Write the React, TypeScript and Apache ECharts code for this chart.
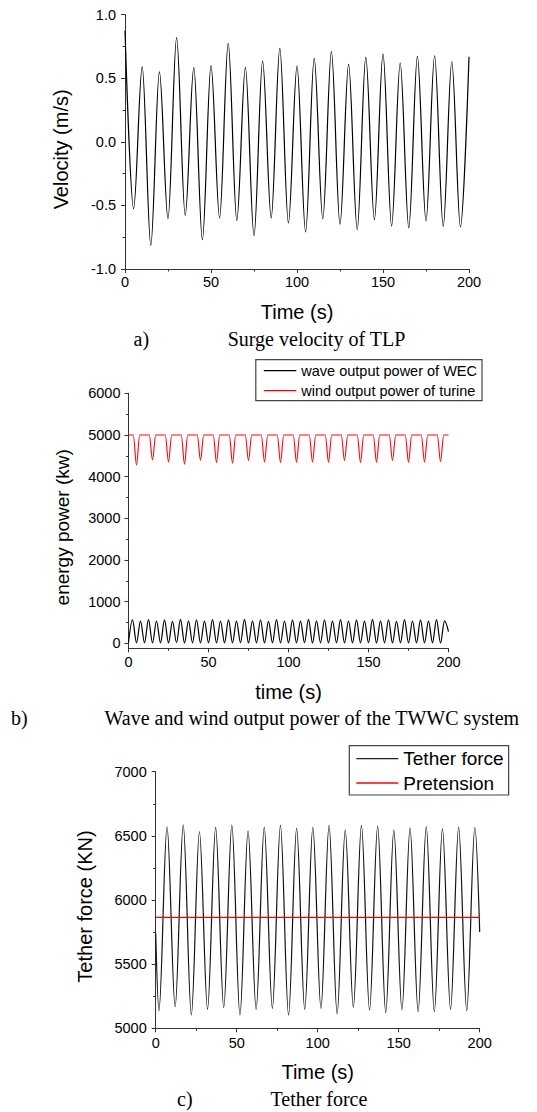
import React, { useEffect, useRef } from 'react';
import * as echarts from 'echarts';

// ---- Panel a: surge velocity of TLP (extremes) ----
const surgeTime = [0, 5, 10, 15, 20, 25, 30, 35, 40, 45, 50, 55, 60, 65, 70, 75, 80, 85, 90, 95, 100, 105, 110, 115, 120, 125, 130, 135, 140, 145, 150, 155, 160, 165, 170, 175, 180, 185, 190, 195, 200];
const surgeVel = [0.874, -0.525, 0.59, -0.814, 0.551, -0.604, 0.819, -0.577, 0.583, -0.769, 0.6, -0.598, 0.774, -0.617, 0.585, -0.738, 0.635, -0.598, 0.735, -0.638, 0.596, -0.709, 0.656, -0.606, 0.709, -0.648, 0.609, -0.69, 0.664, -0.612, 0.69, -0.661, 0.62, -0.677, 0.672, -0.622, 0.677, -0.664, 0.63, -0.669, 0.669];

// ---- Panel b: wave output power of WEC ----
const waveTime = [0, 2.5, 5, 7.5, 10, 12.5, 15, 17.5, 20, 22.5, 25, 27.5, 30, 32.5, 35, 37.5, 40, 42.5, 45, 47.5, 50, 52.5, 55, 57.5, 60, 62.5, 65, 67.5, 70, 72.5, 75, 77.5, 80, 82.5, 85, 87.5, 90, 92.5, 95, 97.5, 100, 102.5, 105, 107.5, 110, 112.5, 115, 117.5, 120, 122.5, 125, 127.5, 130, 132.5, 135, 137.5, 140, 142.5, 145, 147.5, 150, 152.5, 155, 157.5, 160, 162.5, 165, 167.5, 170, 172.5, 175, 177.5, 180, 182.5, 185, 187.5, 190, 192.5, 195, 197.5, 200];
const wavePower = [18, 560, 10, 530, 14, 570, 8, 535, 12, 560, 10, 525, 15, 575, 8, 540, 12, 565, 10, 530, 14, 570, 8, 535, 12, 560, 10, 530, 15, 575, 8, 540, 12, 565, 10, 525, 14, 570, 8, 535, 12, 560, 10, 530, 15, 575, 8, 540, 12, 565, 10, 530, 14, 570, 8, 535, 12, 560, 10, 530, 15, 575, 8, 540, 12, 565, 10, 525, 14, 570, 8, 535, 12, 560, 10, 530, 15, 570, 8, 540, 280];

// ---- Panel b: wind output power of turbine ----
const windTime = [0, 3, 5, 7, 13, 15, 17, 23, 25, 27, 33, 35, 37, 43, 45, 47, 53, 55, 57, 63, 65, 67, 73, 75, 77, 83, 85, 87, 93, 95, 97, 103, 105, 107, 113, 115, 117, 123, 125, 127, 133, 135, 137, 143, 145, 147, 153, 155, 157, 163, 165, 167, 173, 175, 177, 183, 185, 187, 193, 195, 197, 200];
const windPower = [5000, 5000, 4280, 5000, 5000, 4400, 5000, 5000, 4352, 5000, 5000, 4296, 5000, 5000, 4392, 5000, 5000, 4336, 5000, 5000, 4320, 5000, 5000, 4384, 5000, 5000, 4352, 5000, 5000, 4336, 5000, 5000, 4344, 5000, 5000, 4352, 5000, 5000, 4344, 5000, 5000, 4384, 5000, 5000, 4336, 5000, 5000, 4344, 5000, 5000, 4384, 5000, 5000, 4344, 5000, 5000, 4352, 5000, 5000, 4360, 5000, 5000];

// ---- Panel c: tether force and pretension ----
const tetherTime = [0, 2, 7, 12, 17, 22, 27, 32, 37, 42, 47, 52, 57, 62, 67, 72, 77, 82, 87, 92, 97, 102, 107, 112, 117, 122, 127, 132, 137, 142, 147, 152, 157, 162, 167, 172, 177, 182, 187, 192, 197, 200];
const tetherForce = [5740, 5137, 6571, 5168, 6584, 5104, 6532, 5148, 6566, 5163, 6584, 5104, 6537, 5148, 6566, 5156, 6581, 5104, 6558, 5148, 6566, 5156, 6581, 5112, 6544, 5164, 6581, 5143, 6576, 5122, 6544, 5143, 6560, 5130, 6570, 5130, 6555, 5148, 6568, 5138, 6565, 5750];
const pretensionTime = [0, 200];
const pretension = [5865, 5865];

// ---- ticks ----
const timeTicks = [0, 50, 100, 150, 200];
const powerLabels = [0, 1000, 2000, 3000, 4000, 5000, 6000];
const powerMinor = [500, 1500, 2500, 3500, 4500, 5500];

const FONT = '"Liberation Sans", Arial, sans-serif';
const SERIF = '"Liberation Serif", "Times New Roman", serif';
const AX = '#333';

const pairs = (t: number[], v: number[]) => t.map((x, i) => [x, v[i]]);
const plain = (v: number) => String(v);

function xAxis(grid: number, name: string, gap: number, margin: number) {
  return {
    type: 'value', gridIndex: grid, min: timeTicks[0], max: timeTicks[timeTicks.length - 1], interval: 50,
    name, nameLocation: 'middle', nameGap: gap,
    nameTextStyle: { fontSize: 20, color: '#000', fontFamily: FONT },
    axisLine: { show: true, onZero: false, lineStyle: { color: AX, width: 1 } },
    axisTick: { show: true, length: 4, lineStyle: { color: AX } },
    minorTick: { show: true, splitNumber: 2, length: 2.5, lineStyle: { color: AX } },
    splitLine: { show: false }, minorSplitLine: { show: false },
    axisLabel: { color: '#000', fontSize: 14.5, fontFamily: FONT, margin, formatter: plain },
  };
}

export default function App() {
  const ref = useRef<HTMLDivElement>(null);
  useEffect(() => {
    const chart = echarts.init(ref.current!, null, { renderer: 'svg' });
    const yCommon = {
      type: 'value', nameLocation: 'middle',
      axisLine: { show: true, onZero: false, lineStyle: { color: AX, width: 1 } },
      axisTick: { show: true, length: 4, lineStyle: { color: AX } },
      minorTick: { show: true, splitNumber: 2, length: 2.5, lineStyle: { color: AX } },
      splitLine: { show: false }, minorSplitLine: { show: false },
    };
    const option: any = {
      animation: false,
      backgroundColor: '#fff',
      grid: [
        { left: 125, top: 14.7, width: 344, height: 254.3 },
        { left: 128.5, top: 393.3, width: 320, height: 255 },
        { left: 155.7, top: 771.7, width: 324, height: 256.6 },
      ],
      xAxis: [
        xAxis(0, 'Time (s)', 33, 5),
        xAxis(1, 'time (s)', 34, 6),
        xAxis(2, 'Time (s)', 34, 7),
      ],
      yAxis: [
        {
          ...yCommon, gridIndex: 0, min: -1, max: 1, interval: 0.5,
          name: 'Velocity (m/s)', nameGap: 54,
          nameTextStyle: { fontSize: 20, color: '#000', fontFamily: FONT, padding: [0, 15, 0, 0] },
          axisLabel: { color: '#000', fontSize: 14.5, fontFamily: FONT, margin: 9, formatter: (v: number) => v.toFixed(1) },
        },
        {
          ...yCommon, gridIndex: 1, min: -120, max: 6000, position: 'left',
          name: 'energy power (kw)', nameGap: 57,
          nameTextStyle: { fontSize: 19, color: '#000', fontFamily: FONT, padding: [0, 13, 0, 0] },
          minorTick: { show: false },
          axisTick: { show: true, length: 4, lineStyle: { color: AX }, customValues: powerLabels },
          axisLabel: { color: '#000', fontSize: 14.5, fontFamily: FONT, margin: 8, customValues: powerLabels, formatter: plain },
        },
        {
          ...yCommon, gridIndex: 2, min: 5000, max: 7000, interval: 500,
          name: 'Tether force (KN)', nameGap: 61,
          nameTextStyle: { fontSize: 20, color: '#000', fontFamily: FONT, padding: [0, 13, 0, 0] },
          axisLabel: { color: '#000', fontSize: 14.5, fontFamily: FONT, margin: 9, formatter: plain },
        },
        {
          type: 'value', gridIndex: 1, min: -120, max: 6000, position: 'left', offset: 0,
          axisLine: { show: false, onZero: false },
          axisTick: { show: true, length: 2.5, lineStyle: { color: AX }, customValues: powerMinor },
          axisLabel: { show: false },
          splitLine: { show: false },
        },
      ],
      legend: [
        {
          data: ['wave output power of WEC', 'wind output power of turine'],
          orient: 'vertical', left: 255.8, top: 359.7, icon: 'rect',
          itemWidth: 32.5, itemHeight: 1.2, itemGap: 4, padding: [3, 5, 2, 8],
          borderColor: '#444', borderWidth: 1.2, selectedMode: false,
          textStyle: { fontSize: 14.5, lineHeight: 16, color: '#000', fontFamily: FONT },
        },
        {
          data: ['Tether force', 'Pretension'],
          orient: 'vertical', left: 349.3, top: 745.7, icon: 'rect',
          itemWidth: 42, itemHeight: 1.3, itemGap: 4.3, padding: [3, 5, 2, 7],
          borderColor: '#444', borderWidth: 1.2, selectedMode: false,
          textStyle: { fontSize: 19, lineHeight: 20, color: '#000', fontFamily: FONT },
        },
      ],
      series: [
        {
          type: 'line', name: 'Surge velocity', xAxisIndex: 0, yAxisIndex: 0,
          data: pairs(surgeTime, surgeVel), smooth: 0.35, smoothMonotone: 'x',
          symbol: 'none', lineStyle: { color: '#000', width: 1.2 },
        },
        {
          type: 'line', name: 'wave output power of WEC', xAxisIndex: 1, yAxisIndex: 1,
          data: pairs(waveTime, wavePower), smooth: 0.35, smoothMonotone: 'x',
          symbol: 'none', itemStyle: { color: '#000' }, lineStyle: { color: '#000', width: 1.2 },
        },
        {
          type: 'line', name: 'wind output power of turine', xAxisIndex: 1, yAxisIndex: 1,
          data: pairs(windTime, windPower), smooth: 0.35, smoothMonotone: 'x',
          symbol: 'none', itemStyle: { color: '#ff0000' }, lineStyle: { color: '#ff0000', width: 1.1 },
        },
        {
          type: 'line', name: 'Tether force', xAxisIndex: 2, yAxisIndex: 2,
          data: pairs(tetherTime, tetherForce), smooth: 0.35, smoothMonotone: 'x',
          symbol: 'none', itemStyle: { color: '#222' }, lineStyle: { color: '#111', width: 1.2 },
        },
        {
          type: 'line', name: 'Pretension', xAxisIndex: 2, yAxisIndex: 2,
          data: pairs(pretensionTime, pretension),
          symbol: 'none', itemStyle: { color: '#ff0000' }, lineStyle: { color: '#ff0000', width: 1.2 },
        },
      ],
      graphic: [
        { type: 'text', left: 133.6, top: 329, style: { text: 'a)', font: `20px ${SERIF}`, fill: '#000' } },
        { type: 'text', left: 227.7, top: 329, style: { text: 'Surge velocity of TLP', font: `20px ${SERIF}`, fill: '#000' } },
        { type: 'text', left: 11, top: 708, style: { text: 'b)', font: `20px ${SERIF}`, fill: '#000' } },
        { type: 'text', left: 104.5, top: 708, style: { text: 'Wave and wind output power of the TWWC system', font: `20px ${SERIF}`, fill: '#000' } },
        { type: 'text', left: 177, top: 1089, style: { text: 'c)', font: `20px ${SERIF}`, fill: '#000' } },
        { type: 'text', left: 270.5, top: 1089, style: { text: 'Tether force', font: `20px ${SERIF}`, fill: '#000' } },
      ],
    };
    chart.setOption(option);
    return () => chart.dispose();
  }, []);
  return (
    <div
      ref={ref}
      style={{ position: 'absolute', left: 0, top: 0, width: 537, height: 1112, background: '#fff' }}
    />
  );
}
